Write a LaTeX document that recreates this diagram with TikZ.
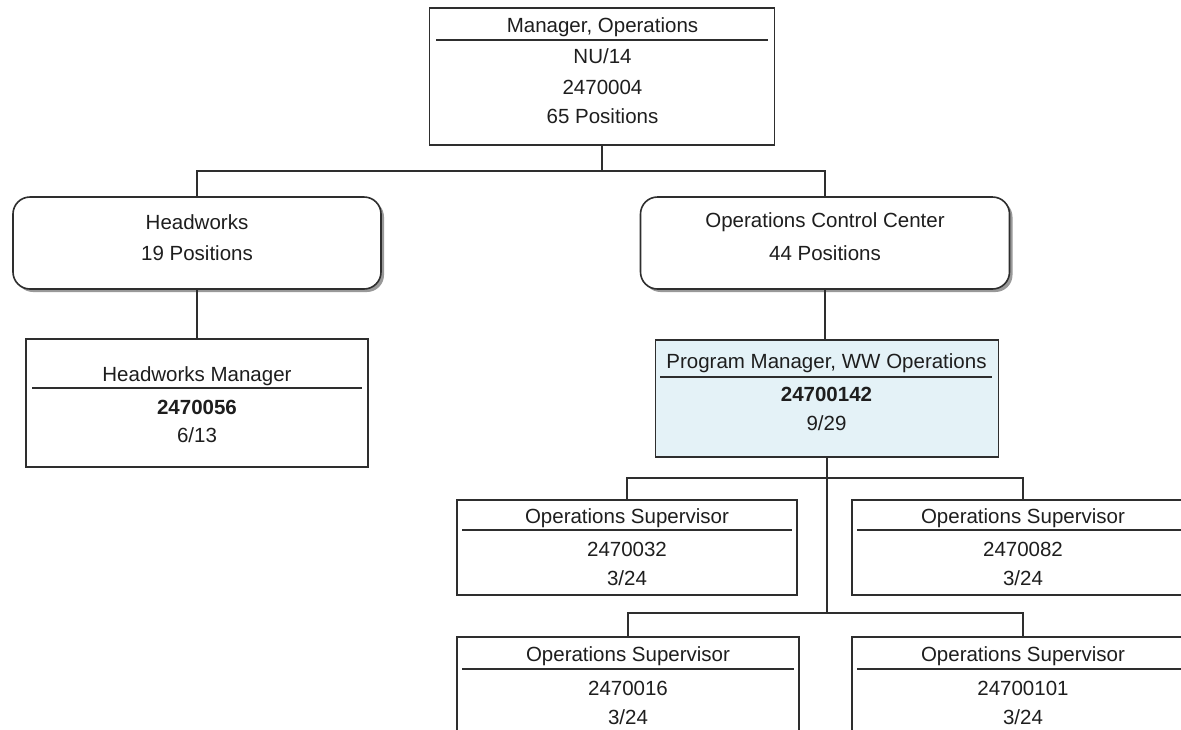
\documentclass[tikz,border=0pt]{standalone}
\usepackage{fontspec}
\setmainfont{Liberation Sans}
\usetikzlibrary{shadows}
\definecolor{ln}{HTML}{2E2E2E}
\definecolor{tx}{HTML}{1E1E1E}
\definecolor{pmfill}{HTML}{E4F2F7}
\tikzset{
  posbox/.style={draw=ln, line width=1.6pt, fill=white, rectangle, inner sep=0pt},
  unitbox/.style={draw=ln, line width=1.6pt, fill=white, rectangle, rounded corners=17pt, inner sep=0pt,
    drop shadow={shadow xshift=3pt, shadow yshift=-3pt, fill=gray!80, opacity=1}},
  txt/.style={text=tx, inner sep=0pt, font=\fontsize{20.5}{24}\selectfont},
  btxt/.style={txt, font=\fontsize{20.5}{24}\selectfont\bfseries},
  tline/.style={draw=ln, line width=1.6pt},
  conn/.style={draw=ln, line width=1.6pt}
}
\begin{document}
\begin{tikzpicture}[x=1pt,y=-1pt]
\useasboundingbox (0,0) rectangle (1181,729);
\fill[white] (0,0) rectangle (1181,729);
\clip (0,0) rectangle (1181,729);

% Top box
\node[posbox, minimum width=345pt, minimum height=137pt] (top) at (602,76.5) {};
\draw[tline] (436,40) -- (768,40);
\node[txt] (topt1) at (602.5,27) {Manager, Operations};
\node[txt] (topt2) at (602.5,56) {NU/14};
\node[txt] (topt3) at (602.5,87) {2470004};
\node[txt] (topt4) at (602.5,116) {65 Positions};

% Headworks unit
\node[unitbox, minimum width=368pt, minimum height=92pt] (hw) at (197,243) {};
\node[txt] (hwt1) at (197,222) {Headworks};
\node[txt] (hwt2) at (197,253) {19 Positions};

% Operations Control Center unit
\node[unitbox, minimum width=369pt, minimum height=92pt] (occ) at (825,243) {};
\node[txt] (occt1) at (825,222) {Operations Control Center};
\node[txt] (occt2) at (825,253) {44 Positions};

% Headworks Manager
\node[posbox, minimum width=342pt, minimum height=128pt] (hm) at (197,403) {};
\draw[tline] (32,388) -- (362,388);
\node[txt] (hmt1) at (197,376) {Headworks Manager};
\node[btxt] (hmt2) at (197,407) {2470056};
\node[txt] (hmt3) at (197,435) {6/13};

% Program Manager
\node[posbox, fill=pmfill, minimum width=343pt, minimum height=117pt] (pm) at (827,398.5) {};
\draw[tline] (660,377) -- (992,377);
\node[txt] (pmt1) at (826.5,363) {Program Manager, WW Operations};
\node[btxt] (pmt2) at (826.5,394) {24700142};
\node[txt] (pmt3) at (826.5,423) {9/29};

% Supervisors row 1
\node[posbox, minimum width=340pt, minimum height=95pt] (s1) at (627,547.5) {};
\draw[tline] (462,530) -- (792,530);
\node[txt] (s1t1) at (627,518) {Operations Supervisor};
\node[txt] (s1t2) at (627,549) {2470032};
\node[txt] (s1t3) at (627,578) {3/24};

\node[posbox, minimum width=342pt, minimum height=95pt] (s2) at (1023,547.5) {};
\draw[tline] (857,530) -- (1189,530);
\node[txt] (s2t1) at (1023,518) {Operations Supervisor};
\node[txt] (s2t2) at (1023,549) {2470082};
\node[txt] (s2t3) at (1023,578) {3/24};

% Supervisors row 2
\node[posbox, minimum width=342pt, minimum height=140pt] (s3) at (628,707) {};
\draw[tline] (462,669) -- (794,669);
\node[txt] (s3t1) at (628,656) {Operations Supervisor};
\node[txt] (s3t2) at (628,688) {2470016};
\node[txt] (s3t3) at (628,717) {3/24};

\node[posbox, minimum width=342pt, minimum height=140pt] (s4) at (1023,707) {};
\draw[tline] (857,669) -- (1189,669);
\node[txt] (s4t1) at (1023,656) {Operations Supervisor};
\node[txt] (s4t2) at (1023,688) {24700101};
\node[txt] (s4t3) at (1023,717) {3/24};

% Connectors
\coordinate (j0) at ([yshift=-25pt]top.south);
\draw[conn] (top.south) -- (j0);
\draw[conn] (hw.north) |- (j0) -| (occ.north);
\draw[conn] (hw.south) -- (hm.north);
\draw[conn] (occ.south) -- (occ.south |- pm.north);
\coordinate (j1) at ([yshift=-20pt]pm.south);
\coordinate (j2) at ([yshift=-155pt]pm.south);
\draw[conn] (pm.south) -- (j2);
\draw[conn] (s1.north) |- (j1) -| (s2.north);
\draw[conn] (s3.north) |- (j2) -| (s4.north);
\end{tikzpicture}
\end{document}
